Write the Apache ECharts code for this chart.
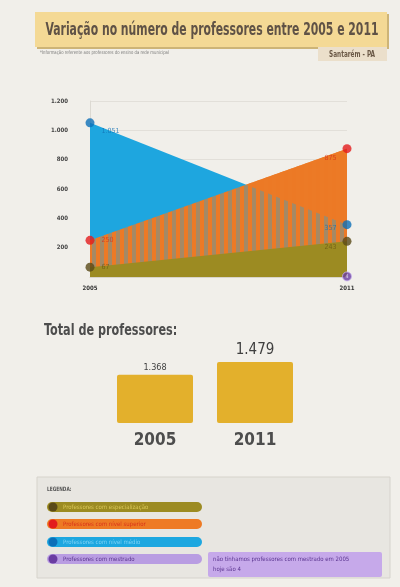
<!DOCTYPE html>
<html><head><meta charset="utf-8">
<script src="https://cdn.jsdelivr.net/npm/echarts@6/dist/echarts.min.js"></script>
<style>html,body{margin:0;padding:0;background:#f1efea;}#c{width:400px;height:587px;}</style>
</head><body><div id="c"></div>
<script>
// ---- data ----
const years = ['2005', '2011'];
const especializacao = [67, 243];
const nivelSuperior = [250, 875];
const nivelMedio = [1051, 357];
const mestrado = [null, 4];
const totalYears = ['2005', '2011'];
const totals = [1368, 1479];
const yTicks = [0, 200, 400, 600, 800, 1000, 1200];
const legendNames = ['Professores com especialização', 'Professores com nível superior', 'Professores com nível médio', 'Professores com mestrado'];
const noteText = ['não tínhamos professores com mestrado em 2005', 'hoje são 4'];

const NARROW = "'Liberation Sans Narrow','DejaVu Sans Condensed','Roboto Condensed','Liberation Sans',sans-serif";
const fmt = v => String(v).replace(/\B(?=(\d{3})+(?!\d))/g, '.');

// stripe pattern for the overlap
const pc = document.createElement('canvas');
pc.width = 8; pc.height = 4;
const px = pc.getContext('2d');
px.fillStyle = 'rgb(236,122,38)'; px.fillRect(0, 0, 4, 4);
px.fillStyle = 'rgba(236,122,38,0.66)'; px.fillRect(4, 0, 4, 4);

const chart = echarts.init(document.getElementById('c'), null, {renderer: 'canvas'});

function lblItem(v, pos, off, color) {
  return {value: v, label: {show: true, position: pos, offset: off, color: color, fontSize: 7, fontFamily: NARROW, formatter: p => fmt(p.value)}};
}

const legendColors = [
  {pill: '#9c8b22', dot: '#5a4a18', text: '#d9c757'},
  {pill: '#ee7a24', dot: '#e31b1d', text: '#d8321a'},
  {pill: '#1da7e0', dot: '#0c6fb8', text: '#7ed2f5'},
  {pill: '#b99de2', dot: '#6a3ca2', text: '#5b3590'}
];
const pillY = [502, 519, 537, 554];
const graphics = [
  // title box
  {type: 'rect', shape: {x: 37, y: 14, width: 352, height: 35}, style: {fill: '#cdb477'}, z: 1},
  {type: 'rect', shape: {x: 35, y: 12, width: 352, height: 35}, style: {fill: '#f4d995'}, z: 2},
  {type: 'text', x: 212, y: 30, scaleX: 0.67,
   style: {text: 'Variação no número de professores entre 2005 e 2011', font: "bold 18px " + NARROW, fill: '#5f5246', align: 'center', verticalAlign: 'middle'}, z: 3},
  {type: 'text', x: 40, y: 53, scaleX: 0.85,
   style: {text: '*Informação referente aos professores do ensino da rede municipal', font: "5px " + NARROW, fill: '#777', verticalAlign: 'middle'}, z: 3},
  {type: 'rect', shape: {x: 318, y: 47, width: 69, height: 14}, style: {fill: '#ebdfcb'}, z: 2},
  {type: 'text', x: 352, y: 54.5, scaleX: 0.8,
   style: {text: 'Santarém - PA', font: "bold 8px " + NARROW, fill: '#6a5846', align: 'center', verticalAlign: 'middle'}, z: 3},
  // totals title
  {type: 'text', x: 44, y: 331, scaleX: 0.78,
   style: {text: 'Total de professores:', font: "bold 16px " + NARROW, fill: '#4d4d4d', verticalAlign: 'middle'}, z: 3},
  // legend box
  {type: 'rect', shape: {x: 37, y: 477, width: 353, height: 101}, style: {fill: '#e8e6e1', stroke: '#d6d3cc', lineWidth: 1}, z: 1},
  {type: 'text', x: 47, y: 489, scaleX: 0.8,
   style: {text: 'LEGENDA:', font: "bold 6px " + NARROW, fill: '#555', verticalAlign: 'middle'}, z: 3},
  // note box
  {type: 'rect', shape: {x: 208, y: 552, width: 174, height: 25, r: 2}, style: {fill: '#c6a9ea'}, z: 2},
  {type: 'text', x: 213, y: 559, style: {text: noteText[0], font: "6px " + NARROW, fill: '#5b3590', verticalAlign: 'middle'}, z: 3},
  {type: 'text', x: 213, y: 569, style: {text: noteText[1], font: "6px " + NARROW, fill: '#5b3590', verticalAlign: 'middle'}, z: 3}
];
legendNames.forEach((n, i) => {
  const c = legendColors[i];
  graphics.push({type: 'rect', shape: {x: 47, y: pillY[i], width: 155, height: 10, r: 5}, style: {fill: c.pill}, z: 2});
  graphics.push({type: 'circle', shape: {cx: 53, cy: pillY[i] + 5, r: 4.5}, style: {fill: c.dot}, z: 3});
  graphics.push({type: 'text', x: 63, y: pillY[i] + 5, style: {text: n, font: "6px " + NARROW, fill: c.text, verticalAlign: 'middle'}, z: 3});
});

const areaBase = {type: 'line', xAxisIndex: 0, yAxisIndex: 0, symbol: 'none', showSymbol: false, silent: true, lineStyle: {width: 0}};
const dotBase = {type: 'scatter', xAxisIndex: 0, yAxisIndex: 0, symbolSize: 9, z: 10, silent: true};

chart.setOption({
  animation: false,
  backgroundColor: '#f1efea',
  graphic: graphics,
  grid: [
    {left: 90, right: 53, top: 101, bottom: 310},
    {left: 105, right: 95, top: 342.3, bottom: 164}
  ],
  xAxis: [
    {gridIndex: 0, type: 'category', data: years, boundaryGap: false,
     axisLine: {show: true, lineStyle: {color: '#d8d4ca'}}, axisTick: {show: false},
     axisLabel: {color: '#333', fontSize: 6, fontWeight: 'bold', fontFamily: NARROW, margin: 8}},
    {gridIndex: 1, type: 'category', data: totalYears,
     axisLine: {show: false}, axisTick: {show: false},
     axisLabel: {color: '#4d4d4d', fontSize: 17, fontWeight: 'bold', fontFamily: NARROW, margin: 9}}
  ],
  yAxis: [
    {gridIndex: 0, type: 'value', min: yTicks[0], max: yTicks[yTicks.length - 1], interval: 200,
     axisLine: {show: true, lineStyle: {color: '#dcd9d2'}}, axisTick: {show: false},
     splitLine: {show: true, lineStyle: {color: '#e2dfd9'}},
     axisLabel: {color: '#444', fontSize: 6, fontWeight: 'bold', fontFamily: NARROW, margin: 22,
       formatter: v => v === 0 ? '' : fmt(v)}},
    {gridIndex: 1, type: 'value', min: 950, max: 1650, show: false, splitLine: {show: false}}
  ],
  series: [
    Object.assign({}, areaBase, {name: legendNames[1] + ' base', data: nivelSuperior, areaStyle: {color: '#ee7a24', opacity: 1}, z: 1}),
    Object.assign({}, areaBase, {name: legendNames[2], data: nivelMedio, areaStyle: {color: '#1ea6df', opacity: 1}, z: 2}),
    Object.assign({}, areaBase, {name: legendNames[1], data: nivelSuperior, areaStyle: {color: {image: pc, repeat: 'repeat'}, opacity: 1}, z: 3}),
    Object.assign({}, areaBase, {name: legendNames[0], data: especializacao, areaStyle: {color: '#9c8b22', opacity: 1}, z: 4}),
    Object.assign({}, dotBase, {name: legendNames[2] + ' pts', itemStyle: {color: '#0c6fb8'},
      data: [lblItem(nivelMedio[0], 'right', [2, 8], '#1270b4'), lblItem(nivelMedio[1], 'left', [-1, 4], '#1270b4')]}),
    Object.assign({}, dotBase, {name: legendNames[1] + ' pts', itemStyle: {color: '#e31b1d'},
      data: [lblItem(nivelSuperior[0], 'right', [2, 0], '#d8321a'), lblItem(nivelSuperior[1], 'left', [-1, 10], '#d8321a')]}),
    Object.assign({}, dotBase, {name: legendNames[0] + ' pts', itemStyle: {color: '#5a4a18'},
      data: [lblItem(especializacao[0], 'right', [2, 0], '#6b5a16'), lblItem(especializacao[1], 'left', [-1, 6], '#6b5a16')]}),
    Object.assign({}, dotBase, {name: legendNames[3], itemStyle: {color: '#6a3ca2', borderColor: '#c9b3ee', borderWidth: 1},
      data: mestrado.map(v => v == null ? null : {value: v, label: {show: true, position: 'inside', color: '#fff', fontSize: 5, fontFamily: NARROW}})}),
    {type: 'bar', xAxisIndex: 1, yAxisIndex: 1, barWidth: 76, silent: true,
     itemStyle: {color: '#e3b02c', borderRadius: 2},
     data: totals.map((v, i) => ({value: v, label: {show: true, position: 'top', distance: i === 0 ? 3 : 4,
       color: '#3f3f3f', fontFamily: NARROW, fontSize: i === 0 ? 9 : 15, formatter: p => fmt(p.value)}}))}
  ]
});
</script>
</body></html>
